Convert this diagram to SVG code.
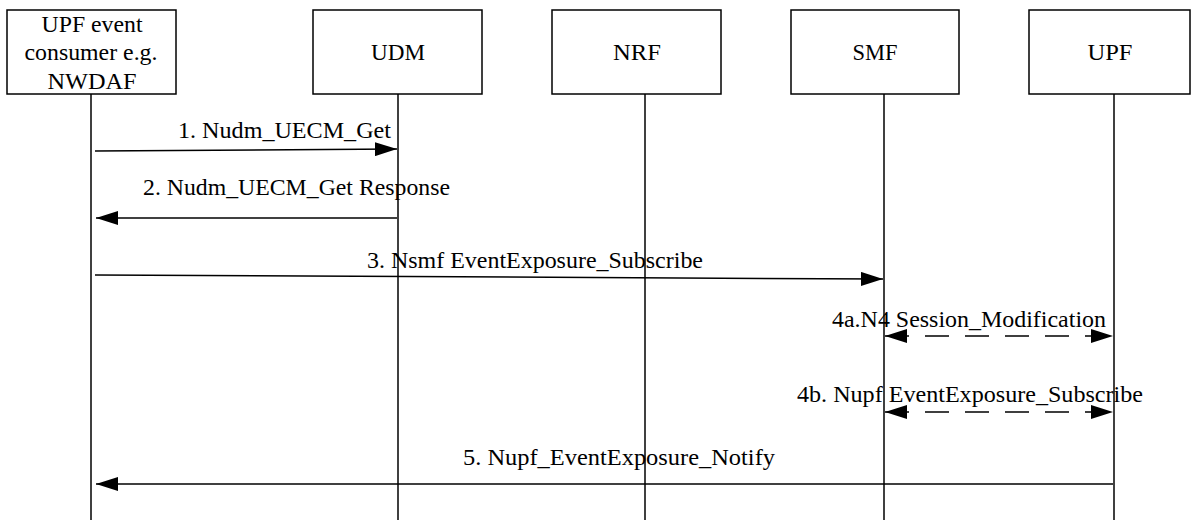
<svg xmlns="http://www.w3.org/2000/svg" width="1192" height="520" viewBox="0 0 1192 520">
<defs>
<style>
.box{fill:#fff;stroke:#000;stroke-width:1.5}
.life{stroke:#000;stroke-width:1.5;fill:none}
.msg{stroke:#000;stroke-width:1.5;fill:none}
.dash{stroke-dasharray:24 16}
.t{font-family:'Liberation Serif','Times New Roman',serif;font-size:23px;fill:#000}
.c{text-anchor:middle}
</style>
<marker id="ah" markerUnits="userSpaceOnUse" markerWidth="22" markerHeight="14" refX="22" refY="7" orient="auto-start-reverse" viewBox="0 0 22 14">
<path d="M0,0 L22,7 L0,14 z" fill="#000"/>
</marker>
</defs>
<rect width="1192" height="520" fill="#fff"/>
<g id="consumer">
<rect class="box" x="7" y="10" width="169" height="84"/>
<text class="t c" x="92" y="32" textLength="101" lengthAdjust="spacingAndGlyphs">UPF event</text>
<text class="t c" x="91" y="60" textLength="133" lengthAdjust="spacingAndGlyphs">consumer e.g.</text>
<text class="t c" x="92" y="89" textLength="89" lengthAdjust="spacingAndGlyphs">NWDAF</text>
<line class="life" x1="91" y1="94" x2="91" y2="520"/>
</g>
<g id="udm">
<rect class="box" x="313" y="10" width="169" height="84"/>
<text class="t c" x="398" y="60" textLength="54" lengthAdjust="spacingAndGlyphs">UDM</text>
<line class="life" x1="398" y1="94" x2="398" y2="520"/>
</g>
<g id="nrf">
<rect class="box" x="552" y="10" width="169" height="84"/>
<text class="t c" x="637" y="60" textLength="48" lengthAdjust="spacingAndGlyphs">NRF</text>
<line class="life" x1="645" y1="94" x2="645" y2="520"/>
</g>
<g id="smf">
<rect class="box" x="791" y="10" width="168" height="84"/>
<text class="t c" x="875" y="60" textLength="45" lengthAdjust="spacingAndGlyphs">SMF</text>
<line class="life" x1="884" y1="94" x2="884" y2="520"/>
</g>
<g id="upf">
<rect class="box" x="1029" y="10" width="161" height="84"/>
<text class="t c" x="1110" y="60" textLength="45" lengthAdjust="spacingAndGlyphs">UPF</text>
<line class="life" x1="1114" y1="94" x2="1114" y2="520"/>
</g>
<g id="connectors">
<line class="msg" x1="95" y1="151" x2="397" y2="149" marker-end="url(#ah)"/>
<text class="t" x="178" y="138" textLength="213" lengthAdjust="spacingAndGlyphs">1. Nudm_UECM_Get</text>
<line class="msg" x1="397" y1="218" x2="96" y2="218" marker-end="url(#ah)"/>
<text class="t" x="143" y="195" textLength="307" lengthAdjust="spacingAndGlyphs">2. Nudm_UECM_Get Response</text>
<line class="msg" x1="95" y1="275" x2="883" y2="279" marker-end="url(#ah)"/>
<text class="t" x="367" y="268" textLength="336" lengthAdjust="spacingAndGlyphs">3. Nsmf EventExposure_Subscribe</text>
<line class="msg dash" x1="885" y1="336" x2="1113" y2="336" marker-start="url(#ah)" marker-end="url(#ah)"/>
<text class="t" x="832" y="327" textLength="274" lengthAdjust="spacingAndGlyphs">4a.N4 Session_Modification</text>
<line class="msg dash" x1="885" y1="412" x2="1113" y2="412" marker-start="url(#ah)" marker-end="url(#ah)"/>
<text class="t" x="797" y="402" textLength="346" lengthAdjust="spacingAndGlyphs">4b. Nupf EventExposure_Subscribe</text>
<line class="msg" x1="1113" y1="484" x2="96" y2="484" marker-end="url(#ah)"/>
<text class="t" x="463" y="465" textLength="312" lengthAdjust="spacingAndGlyphs">5. Nupf_EventExposure_Notify</text>
</g>
</svg>
